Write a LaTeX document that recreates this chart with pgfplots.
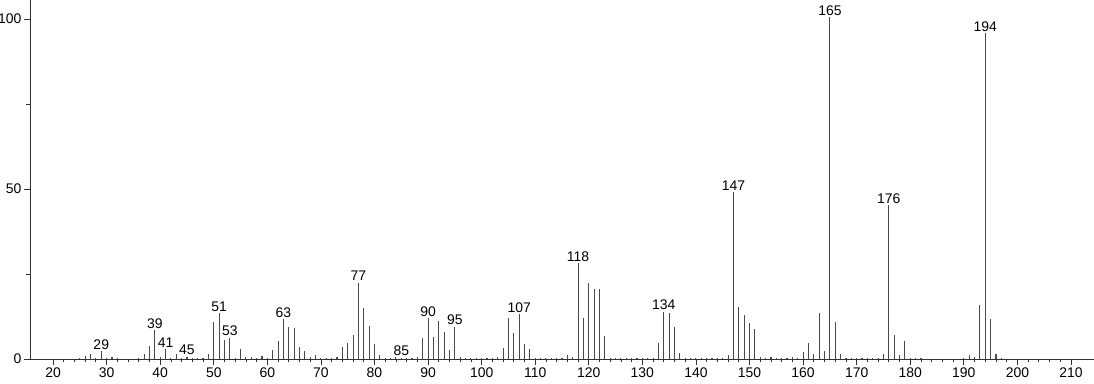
\documentclass[border=0pt]{standalone}
\usepackage{pgfplots}
\pgfplotsset{compat=1.18}
\usepackage{pgfplotstable}
\usepackage{fontspec}
\setmainfont{Liberation Sans}
\definecolor{peak}{HTML}{4A4A4A}
\definecolor{axc}{HTML}{333333}
\pgfplotstableread{
mz int
25 0.4
26 0.8
27 1.4
28 0.4
29 2.3
30 0.4
31 0.5
32 0.2
36 0.4
37 1.6
38 3.8
39 8.5
40 0.6
41 2.9
42 0.4
43 1.4
44 0.4
45 0.7
46 0.3
47 0.4
48 0.3
49 1.5
50 11.0
51 13.4
52 5.6
53 6.3
54 0.3
55 2.9
56 0.5
57 0.5
58 0.3
59 1.0
60 0.3
61 2.6
62 5.3
63 11.8
64 9.4
65 9.1
66 3.4
67 2.3
68 0.5
69 1.1
70 0.3
71 0.4
72 0.4
73 0.7
74 3.4
75 4.7
76 7.1
77 22.5
78 15.0
79 9.8
80 4.4
81 1.1
82 0.4
83 0.4
84 0.6
85 0.4
86 0.4
87 0.4
88 0.6
89 6.3
90 12.0
91 6.6
92 11.2
93 8.0
94 2.6
95 9.5
96 0.6
97 0.4
98 0.4
99 0.4
100 0.3
101 0.4
102 0.4
103 0.6
104 3.1
105 12.0
106 7.5
107 13.2
108 4.4
109 2.9
110 0.4
111 0.4
112 0.4
113 0.4
114 0.4
115 0.4
116 1.2
117 0.7
118 28.1
119 12.0
120 22.3
121 20.6
122 20.6
123 6.8
124 0.4
125 0.4
126 0.4
127 0.4
128 0.4
129 0.4
130 0.4
131 0.4
132 0.4
133 4.6
134 13.9
135 13.4
136 9.3
137 1.7
138 0.4
139 0.4
140 0.3
141 0.3
142 0.3
143 0.3
144 0.3
145 0.3
146 1.1
147 49.1
148 15.2
149 12.9
150 10.7
151 8.8
152 0.5
153 0.4
154 0.5
155 0.4
156 0.3
157 0.3
158 0.5
159 0.4
160 2.2
161 4.6
162 1.4
163 13.4
164 2.3
165 100.5
166 10.9
167 1.4
168 0.4
169 0.3
170 0.3
171 0.3
172 0.3
173 0.3
174 0.3
175 1.4
176 45.3
177 7.0
178 1.1
179 5.3
180 0.3
181 0.4
182 0.3
190 0.4
191 1.1
192 0.5
193 15.8
194 95.9
195 11.9
196 1.6
197 0.4
}\spectrum
\pgfplotstableread{
mz int lab
29 2.3 29
39 8.5 39
41 2.9 41
45 0.7 45
51 13.4 51
53 6.3 53
63 11.8 63
77 22.5 77
85 0.4 85
90 12.0 90
95 9.5 95
107 13.2 107
118 28.1 118
134 13.9 134
147 49.1 147
165 100.5 165
176 45.3 176
194 95.9 194
}\labels
\begin{document}
\begin{tikzpicture}
\begin{axis}[
  scale only axis,
  width=1064bp, height=359bp,
  xmin=15.7, xmax=214.3,
  ymin=0, ymax=105.6,
  axis x line=bottom, axis y line=left,
  axis line style={-, draw=axc, line width=0.8bp},
  xtick={20,30,...,210},
  minor x tick num=4,
  ytick={0,50,100},
  minor y tick num=1,
  tick align=outside,
  major tick length=6bp,
  minor tick length=3.5bp,
  tick style={draw=axc, line width=0.8bp},
  /pgf/number format/assume math mode=true,
  tick label style={font=\fontsize{14}{16}\selectfont, text=black},
  xticklabel style={yshift=1bp},
  yticklabel style={xshift=1bp},
  clip=false,
]
\addplot[ycomb, draw=peak, line width=1.1bp, mark=none] table[x=mz, y=int] {\spectrum};
\addplot[draw=none, mark=none,
  nodes near coords, point meta=explicit symbolic,
  every node near coord/.style={font=\fontsize{14}{16}\selectfont, text=black, inner sep=1.5bp, anchor=south}]
  table[x=mz, y=int, meta=lab] {\labels};
\coordinate (sw) at (rel axis cs:0,0);
\coordinate (ne) at (rel axis cs:1,1);
\end{axis}
\pgfresetboundingbox
\path[use as bounding box] ([xshift=-30bp,yshift=-25bp]sw) rectangle (ne);
\end{tikzpicture}
\end{document}
